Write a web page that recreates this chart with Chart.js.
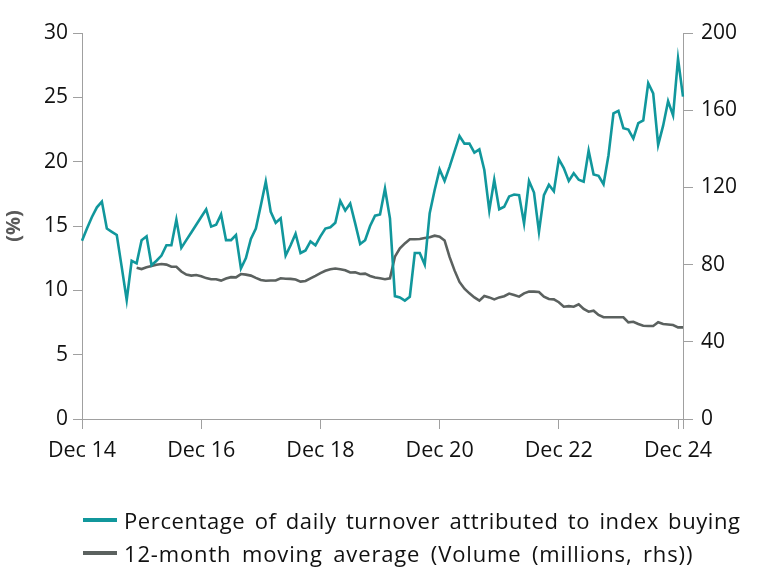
<!DOCTYPE html>
<html>
<head>
<meta charset="utf-8">
<script src="https://cdn.jsdelivr.net/npm/chart.js@4.4.0/dist/chart.umd.min.js"></script>
<style>
  html, body { margin: 0; padding: 0; background: #fff; }
  #wrap { position: relative; width: 766px; height: 581px; overflow: hidden; }
  #c { position: absolute; left: 0; top: 0; }
  .leg { position: absolute; left: 83px; height: 28px; display: flex; align-items: center;
         font-family: "Open Sans", sans-serif; font-size: 22px; letter-spacing: 0.6px; word-spacing: 3px;
         color: #111; white-space: nowrap; }
  .leg .sw { width: 34px; height: 4px; margin-right: 7px; }
</style>
</head>
<body>
<div id="wrap">
  <canvas id="c" width="766" height="581"></canvas>
  <div class="leg" style="top:506px"><span class="sw" style="background:#11979C"></span><span id="l1"></span></div>
  <div class="leg" style="top:539px; letter-spacing: 0.85px; word-spacing: 4px;"><span class="sw" style="background:#5B615F"></span><span id="l2"></span></div>
</div>
<script>
// ---- data ----
const seriesNames = [
  "Percentage of daily turnover attributed to index buying",
  "12-month moving average (Volume (millions, rhs))"
];
const xTickLabels = ["Dec 14", "Dec 16", "Dec 18", "Dec 20", "Dec 22", "Dec 24"];
const yLeftTitle = "(%)";

// months from Dec 2014 to Jan 2025
const monthLabels = [];
for (let i = 0; i < 122; i++) {
  const y = 2014 + Math.floor((11 + i) / 12);
  const m = (11 + i) % 12 + 1;
  monthLabels.push(y + "-" + String(m).padStart(2, "0"));
}

// Percentage of daily turnover attributed to index buying (%), left axis
const indexBuyingPct = [
  13.85, 14.8, 15.7, 16.45, 16.9, 14.8, 14.55, 14.3, 11.8, 9.25,
  12.3, 12.1, 13.9, 14.2, 11.95, 12.3, 12.7, 13.5, 13.5, 15.5,
  13.3, 13.9, 14.5, 15.1, 15.7, 16.3, 14.95, 15.1, 15.9, 13.9,
  13.9, 14.3, 11.7, 12.5, 14.0, 14.8, 16.6, 18.45, 16.1, 15.25,
  15.6, 12.7, 13.5, 14.4, 12.9, 13.1, 13.8, 13.5, 14.2, 14.8,
  14.9, 15.25, 16.95, 16.2, 16.75, 15.2, 13.6, 13.9, 15.0, 15.8,
  15.9, 17.9, 15.6, 9.55, 9.45, 9.2, 9.5, 12.9, 12.9, 12.0,
  16.0, 17.8, 19.4, 18.5, 19.6, 20.8, 22.0, 21.4, 21.4, 20.7,
  20.95, 19.35, 16.2, 18.6, 16.3, 16.5, 17.3, 17.45, 17.4, 15.2,
  18.5, 17.6, 14.55, 17.4, 18.2, 17.7, 20.2, 19.5, 18.5, 19.1,
  18.6, 18.45, 20.85, 19.0, 18.9, 18.25, 20.5, 23.75, 23.95, 22.6,
  22.5, 21.8, 23.0, 23.2, 26.1, 25.3, 21.3, 22.8, 24.7, 23.6,
  28.0, 25.05
];

// 12-month moving average of volume (millions), right axis; starts Nov 2015
const volumeMA = [
  null, null, null, null, null, null, null, null, null, null, null,
  78.4, 77.7, 78.6, 79.3, 79.9, 80.3, 80.0, 78.9, 78.9,
  76.4, 74.8, 74.3, 74.6, 74.0, 73.0, 72.4, 72.4, 71.7, 72.8,
  73.5, 73.4, 75.1, 74.8, 74.3, 73.1, 72.0, 71.6, 71.8, 71.8,
  72.9, 72.7, 72.6, 72.3, 71.2, 71.5, 72.9, 74.2, 75.6, 76.8,
  77.6, 78.0, 77.6, 77.1, 75.9, 76.0, 75.1, 75.3, 74.1, 73.3,
  72.9, 72.4, 72.9, 84.1, 88.4, 91.0, 93.1, 93.1, 93.3, 93.8,
  94.2, 95.0, 94.5, 92.5, 84.0, 77.0, 71.0, 67.5, 65.1, 63.0,
  61.3, 63.7, 63.0, 62.0, 63.0, 63.6, 65.0, 64.2, 63.4, 65.1,
  66.0, 66.0, 65.8, 63.4, 62.2, 62.0, 60.5, 58.2, 58.5, 58.2,
  59.4, 57.0, 55.6, 56.1, 53.9, 52.7, 52.7, 52.7, 52.7, 52.7,
  50.1, 50.4, 49.2, 48.3, 48.2, 48.2, 50.1, 49.2, 49.0, 48.7,
  47.5, 47.5
];

document.getElementById("l1").textContent = seriesNames[0];
document.getElementById("l2").textContent = seriesNames[1];

const FONT = "'Open Sans', sans-serif";
const AXIS = "#a0a0a0";
const TXT = "#111111";

new Chart(document.getElementById("c"), {
  type: "line",
  data: {
    labels: monthLabels,
    datasets: [
      { label: seriesNames[0], data: indexBuyingPct, yAxisID: "y",
        borderColor: "#11979C", borderWidth: 2.6, pointRadius: 0, tension: 0, fill: false },
      { label: seriesNames[1], data: volumeMA, yAxisID: "y1",
        borderColor: "#5B615F", borderWidth: 2.6, pointRadius: 0, tension: 0, fill: false }
    ]
  },
  options: {
    responsive: false,
    animation: false,
    devicePixelRatio: 1,
    layout: { padding: { top: 33, left: 0, right: 0, bottom: 0 } },
    plugins: { legend: { display: false }, tooltip: { enabled: false } },
    scales: {
      x: {
        type: "category",
        offset: false,
        grid: { display: true, drawOnChartArea: false, drawTicks: true, tickLength: 10, color: AXIS, lineWidth: 1 },
        border: { display: true, color: AXIS, width: 1 },
        ticks: {
          autoSkip: false, maxRotation: 0, minRotation: 0, padding: 9,
          color: TXT, font: { family: FONT, size: 21.5 },
          callback: function (v, i) {
            if (i % 24 === 0) return xTickLabels[i / 24];
            if (i === monthLabels.length - 1) return "";
            return null;
          }
        },
        afterFit: function (s) { s.height = 581 - 419; }
      },
      y: {
        position: "left", min: 0, max: 30,
        grid: { display: true, drawOnChartArea: false, drawTicks: true, tickLength: 9, color: AXIS },
        border: { display: true, color: AXIS, width: 1 },
        ticks: { stepSize: 5, padding: 5, color: TXT, font: { family: FONT, size: 21 } },
        title: { display: true, text: yLeftTitle, color: "#595959", font: { family: FONT, size: 20, weight: "bold" }, padding: { top: 2, bottom: 2 } },
        afterFit: function (s) { s.width = 82; }
      },
      y1: {
        position: "right", min: 0, max: 200,
        grid: { display: true, drawOnChartArea: false, drawTicks: true, tickLength: 10, color: AXIS },
        border: { display: true, color: AXIS, width: 1 },
        ticks: { stepSize: 40, padding: 8, color: TXT, font: { family: FONT, size: 21 } },
        afterFit: function (s) { s.width = 766 - 683; }
      }
    }
  }
});
</script>
</body>
</html>
